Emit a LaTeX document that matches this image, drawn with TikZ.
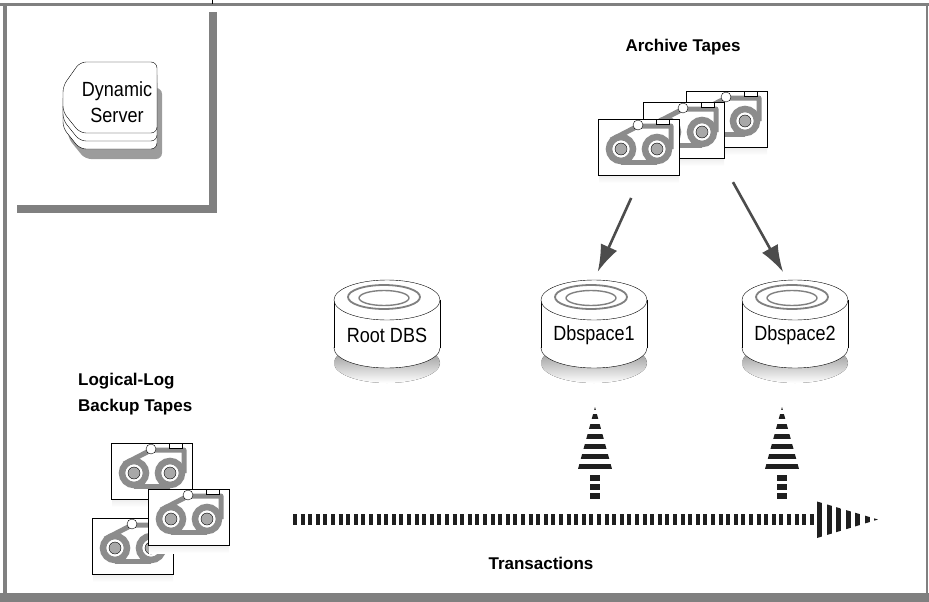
\documentclass[tikz,border=0pt]{standalone}
\usepackage{fontspec}
\setmainfont{Liberation Sans}
\newfontfamily\narrowfont{Liberation Sans}[FakeStretch=0.88]
\usepackage{tikz}
\usetikzlibrary{arrows.meta, positioning}

\definecolor{framegray}{gray}{0.5}
\definecolor{shade}{gray}{0.72}
\definecolor{tapegray}{gray}{0.55}
\definecolor{hubgray}{gray}{0.66}
\definecolor{ringgray}{gray}{0.5}
\definecolor{arrowgray}{gray}{0.3}
\definecolor{stripe}{gray}{0.12}

\tikzset{
  lbl/.style={font=\narrowfont\fontsize{20.5}{26}\selectfont, align=center, inner sep=0pt},
  head/.style={font=\bfseries\fontsize{17}{26}\selectfont, inner sep=0pt},
  tapebox/.style={minimum width=81, minimum height=56, inner sep=0pt},
  restore/.style={-{Latex[length=27, width=18]}, arrowgray, line width=2.6},
}

% one cartridge, top left corner at (#2,#3)
\newcommand{\tape}[3]{%
  \fill [shade] ({#2+1},{#3+8}) rectangle ({#2+81},{#3+64});
  \draw [fill=white] (#2,#3) rectangle ({#2+81},{#3+56});
  \draw [tapegray, line width=5, line join=round]
    ({#2+13},{#3+21}) -- ({#2+40},{#3+7}) -- ({#2+73},{#3+7}) -- ({#2+73},{#3+30});
  \draw [tapegray, line width=5] ({#2+23},{#3+43}) -- ({#2+59},{#3+43});
  \foreach \c in {23,59} {
    \draw [tapegray, line width=6.5] ({#2+\c},{#3+30}) circle [radius=12];
    \draw [fill=hubgray] ({#2+\c},{#3+30}) circle [radius=6];
  }
  \draw [fill=white] ({#2+40},{#3+6}) circle [radius=5];
  \draw [fill=white] ({#2+58},#3) rectangle ({#2+71},{#3+5});
  \node [tapebox] (#1) at ({#2+40.5},{#3+28}) {};
}

% one dbspace, centred at x=#2
\newcommand{\disk}[3]{%
  \fill [shade] (#2,363) ellipse [x radius=53, y radius=20];
  \draw [fill=white] (#2,348) ellipse [x radius=53, y radius=20];
  \fill [white] ({#2-53},300) rectangle ({#2+53},348);
  \draw ({#2-53},300) -- ({#2-53},348);
  \draw ({#2+53},300) -- ({#2+53},348);
  \draw [fill=white] (#2,300) ellipse [x radius=53, y radius=20];
  \draw [ringgray, line width=1.8] ({#2-3},297) ellipse [x radius=36, y radius=12];
  \draw [ringgray, line width=1.4] ({#2-3},298) ellipse [x radius=25, y radius=7.5];
  \node [lbl] (#1) at (#2,335) {#3};
  \coordinate (#1top) at (#2,280);
}

% striped arrow pointing up, tip at (#2,407)
\newcommand{\uparr}[2]{%
  \begin{scope}
    \clip (#2,407) -- ({#2+17},469) -- ({#2-17},469) -- cycle;
    \foreach \y in {405,414,424,434,444,454,464}
      \fill [stripe] ({#2-18},\y) rectangle ({#2+18},{\y+5});
  \end{scope}
  \foreach \y in {475,484,493}
    \fill [stripe] ({#2-5},\y) rectangle ({#2+5},{\y+5.5});
  \coordinate (#1) at (#2,407);
}

\begin{document}
\begin{tikzpicture}[x=1pt, y=-1pt]
\useasboundingbox (0,0) rectangle (929,602);

% frame
\fill [framegray] (0,3.5) rectangle (929,6.5);
\fill [framegray] (3,6) rectangle (6.5,594);
\fill [framegray] (925.5,6) rectangle (928,594);
\fill [framegray] (0,593) rectangle (929,602);
\draw (212,0) -- (212,4);

% server panel
\fill [framegray] (209,12) rectangle (216.5,213);
\fill [framegray] (17,205) rectangle (216.5,213);
\fill [shade!85!black, rounded corners=6] (85,88) -- (162,88) -- (162,159) -- (85,159)
  -- (68,138) -- (68,112) -- cycle;
\foreach \dy in {16,8,0}
  \draw [fill=white, rounded corners=6] (80,62+\dy) -- (157,62+\dy) -- (157,133+\dy)
    -- (80,133+\dy) -- (63,112+\dy) -- (63,86+\dy) -- cycle;
\node [lbl] (srv) at (117,102) {Dynamic\\Server};

% archive tapes
\node [head] (arclbl) at (683,47) {Archive Tapes};
\tape{arcback}{686}{91}
\tape{arcmid}{643}{102}
\tape{arcfront}{598}{119}

% logical-log tapes
\node [head, align=left, anchor=west] (loglbl) at (78,394) {Logical-Log\\Backup Tapes};
\tape{logA}{111}{443}
\tape{logC}{92}{518}
\tape{logB}{148}{489}

% dbspaces
\disk{rootdbs}{387}{Root DBS}
\disk{dbs1}{594}{Dbspace1}
\disk{dbs2}{795}{Dbspace2}

% restore arrows
\path [draw, restore, shorten <=25, shorten >=9] ([xshift=3]arcfront.south) -- (dbs1top);
\path [draw, restore, shorten <=40, shorten >=9] ([xshift=-13]arcback.south) -- ([xshift=-7.5]dbs2top);

% transactions
\coordinate (trstart) at (293,519.5);
\coordinate (trend) at (817,519.5);
\draw [stripe, line width=11, dash pattern=on 4 off 3.6] (trstart) -- (trend);
\begin{scope}
  \clip (trend) ++(0,-18) -- (878,519.5) -- (817,538) -- cycle;
  \foreach \x in {817,826.5,836,845.5,855,864.5,874}
    \fill [stripe] (\x,500) rectangle (\x+5,539);
\end{scope}
\uparr{up1}{595}
\uparr{up2}{782}
\node [head] (trlbl) at (541,563) {Transactions};

\end{tikzpicture}
\end{document}
